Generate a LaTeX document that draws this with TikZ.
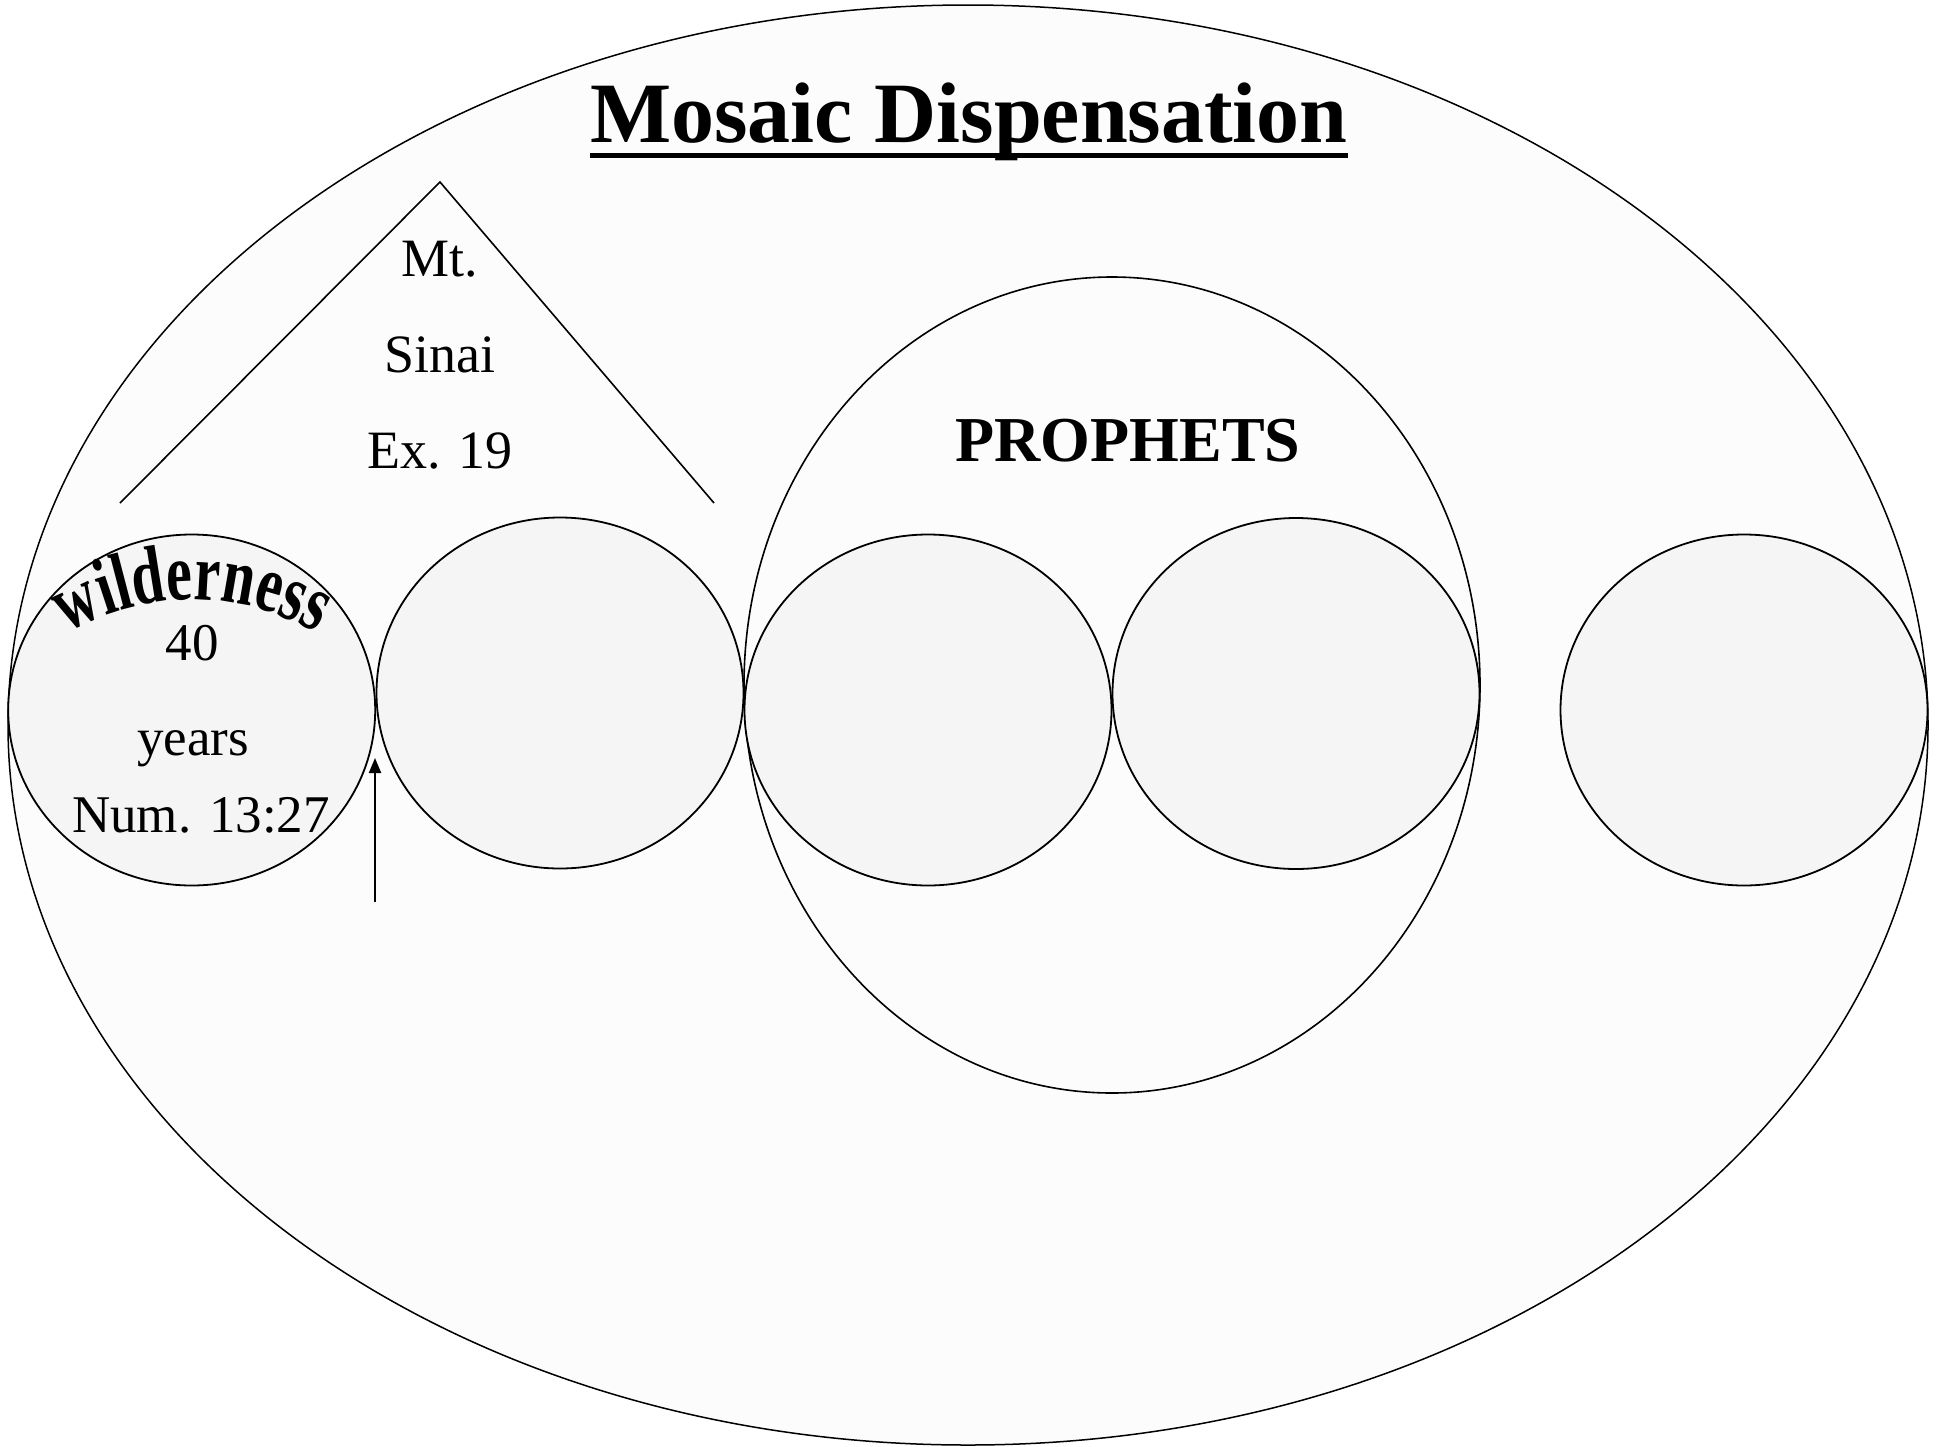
\documentclass[tikz,border=0pt]{standalone}
\usepackage{fontspec}
\setmainfont{Liberation Serif}
\usetikzlibrary{arrows.meta,decorations.text,calc,shapes.geometric}
\definecolor{outerfill}{HTML}{FCFCFC}
\definecolor{ringfill}{HTML}{F5F5F5}
\begin{document}
\begin{tikzpicture}[x=1pt,y=-1pt,
  bigell/.style={ellipse,draw=black,line width=1.5pt,fill=outerfill,inner sep=0pt,minimum width=1920pt,minimum height=1440pt},
  prophring/.style={ellipse,draw=black,line width=1.6pt,fill=outerfill,inner sep=0pt,minimum width=736pt,minimum height=816pt},
  ring/.style={ellipse,draw=black,line width=1.8pt,fill=ringfill,inner sep=0pt,minimum width=367pt,minimum height=351pt},
  lbl/.style={anchor=base,inner sep=0pt,font=\fontsize{54}{60}\selectfont},
  mtn/.style={draw=black,line width=1.6pt}]
\useasboundingbox (0,0) rectangle (1940,1446);
\fill[white] (0,0) rectangle (1940,1446);
% outer ellipse
\node[bigell] (outer) at (968,725) {};
% title
\node[anchor=base,inner sep=0pt,font=\fontsize{86}{100}\selectfont\bfseries] (title) at (969,142.7) {Mosaic Dispensation};
\draw[line width=5pt] ($(title.base west)+(0,12.5)$) -- ($(title.base east)+(0,12.5)$);
% mountain
\coordinate (mL) at (120,503);
\coordinate (mT) at (440,182);
\coordinate (mR) at (714,503);
\draw[mtn] (mL) -- (mT) -- (mR);
\node[lbl] (mt) at (440,276) {Mt.};
\node[lbl] (sinai) at (440,372) {Sinai};
\node[lbl] (ex) at (440,468) {Ex. 19};
% prophets ring
\node[prophring] (proph) at (1112,685) {};
\node[anchor=base,inner sep=0pt,font=\fontsize{64}{70}\selectfont\bfseries] (prophlbl) at (1128,461) {PROPHETS};
% small circles
\node[ring] (c1) at (191.7,710) {};
\node[ring] (c2) at (560,693) {};
\node[ring] (c3) at (928,710) {};
\node[ring] (c4) at (1296,693.5) {};
\node[ring] (c5) at (1744,710) {};
% wilderness text
\coordinate (wc) at (192,853);
\path[decorate,decoration={text effects along path,text align=center,
  text={wilderness},
  text effects/.cd, text along path,
  characters={font=\fontsize{58}{58}\selectfont\bfseries,yscale=1.4,inner sep=0pt}}]
  ($(wc)+(222:253)$) arc (222:318:253);
\node[lbl,font=\fontsize{53}{60}\selectfont] (forty) at (192,660) {40};
\node[lbl,font=\fontsize{53}{60}\selectfont] (years) at (193,755) {years};
\node[lbl,font=\fontsize{53}{60}\selectfont] (num) at (201,832) {Num. 13:27};
% arrow
\coordinate (arS) at (375,902);
\coordinate (arE) at (375,758);
\draw[line width=2pt,-{Triangle[length=15pt,width=12pt]}] (arS) -- (arE);
\end{tikzpicture}
\end{document}
